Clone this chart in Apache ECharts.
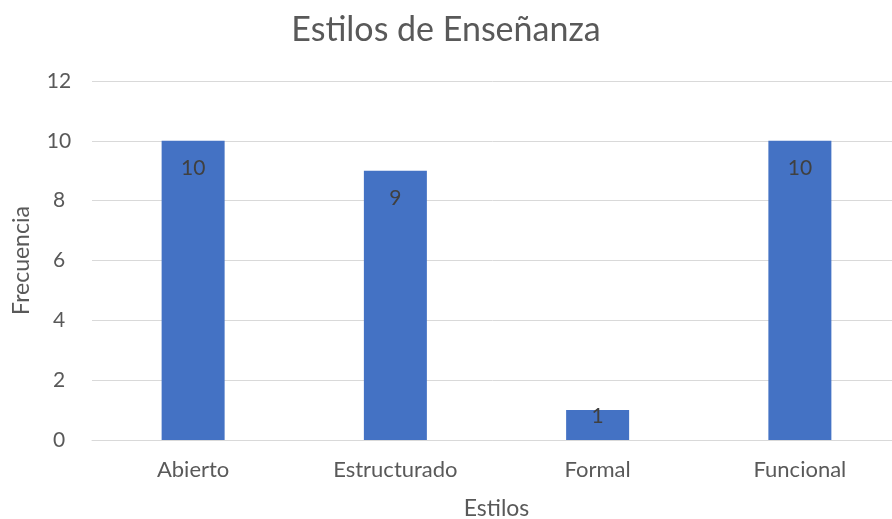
<!DOCTYPE html>
<html>
<head>
<meta charset="utf-8">
<script src="https://cdn.jsdelivr.net/npm/echarts@6/dist/echarts.min.js"></script>
<style>
	html, body { margin: 0; padding: 0; background: #fff; }
	#chart { width: 892px; height: 519px; }
</style>
</head>
<body>
<div id="chart"></div>
<script>
// datos
var categorias = ['Abierto', 'Estructurado', 'Formal', 'Funcional'];
var frecuencias = [10, 9, 1, 10];
var ticksY = [0, 2, 4, 6, 8, 10, 12];

var fuente = 'Lato, "Open Sans", sans-serif';
var chart = echarts.init(document.getElementById('chart'));

var datos = frecuencias.map(function (v) {
	// la etiqueta de barras cortas se centra sobre el borde
	if (v < 2) {
		return { value: v, label: { position: 'insideTop', distance: -4 } };
	}
	return v;
});

var opt = {
	animation: false,
	title: {
		text: 'Estilos de Enseñanza',
		left: 'center',
		top: 8,
		textStyle: { fontFamily: fuente, fontSize: 34, fontWeight: 'normal', color: '#595959' }
	},
	grid: { left: 92, right: -9, top: 81, bottom: 79, outerBoundsMode: 'none', containLabel: false },
	xAxis: {
		type: 'category',
		data: categorias,
		name: 'Estilos',
		nameLocation: 'middle',
		nameGap: 57,
		nameTextStyle: { fontFamily: fuente, fontSize: 23, color: '#595959' },
		axisLine: { lineStyle: { color: '#d9d9d9', width: 1 } },
		axisTick: { show: false },
		axisLabel: { fontFamily: fuente, fontSize: 22, color: '#595959', margin: 19 }
	},
	yAxis: {
		type: 'value',
		min: ticksY[0],
		max: ticksY[ticksY.length - 1],
		interval: 2,
		name: 'Frecuencia',
		nameLocation: 'middle',
		nameGap: 59,
		nameTextStyle: { fontFamily: fuente, fontSize: 23, color: '#595959' },
		axisLine: { show: false },
		axisTick: { show: false },
		splitLine: { lineStyle: { color: '#d9d9d9', width: 1 } },
		axisLabel: { fontFamily: fuente, fontSize: 21, color: '#595959', margin: 33, align: 'center' }
	},
	series: [{
		type: 'bar',
		data: datos,
		barWidth: 63,
		itemStyle: { color: '#4472c4' },
		label: {
			show: true,
			position: 'insideTop',
			distance: 17,
			fontFamily: fuente,
			fontSize: 21,
			color: '#404040'
		}
	}]
};
chart.setOption(opt);
</script>
</body>
</html>
